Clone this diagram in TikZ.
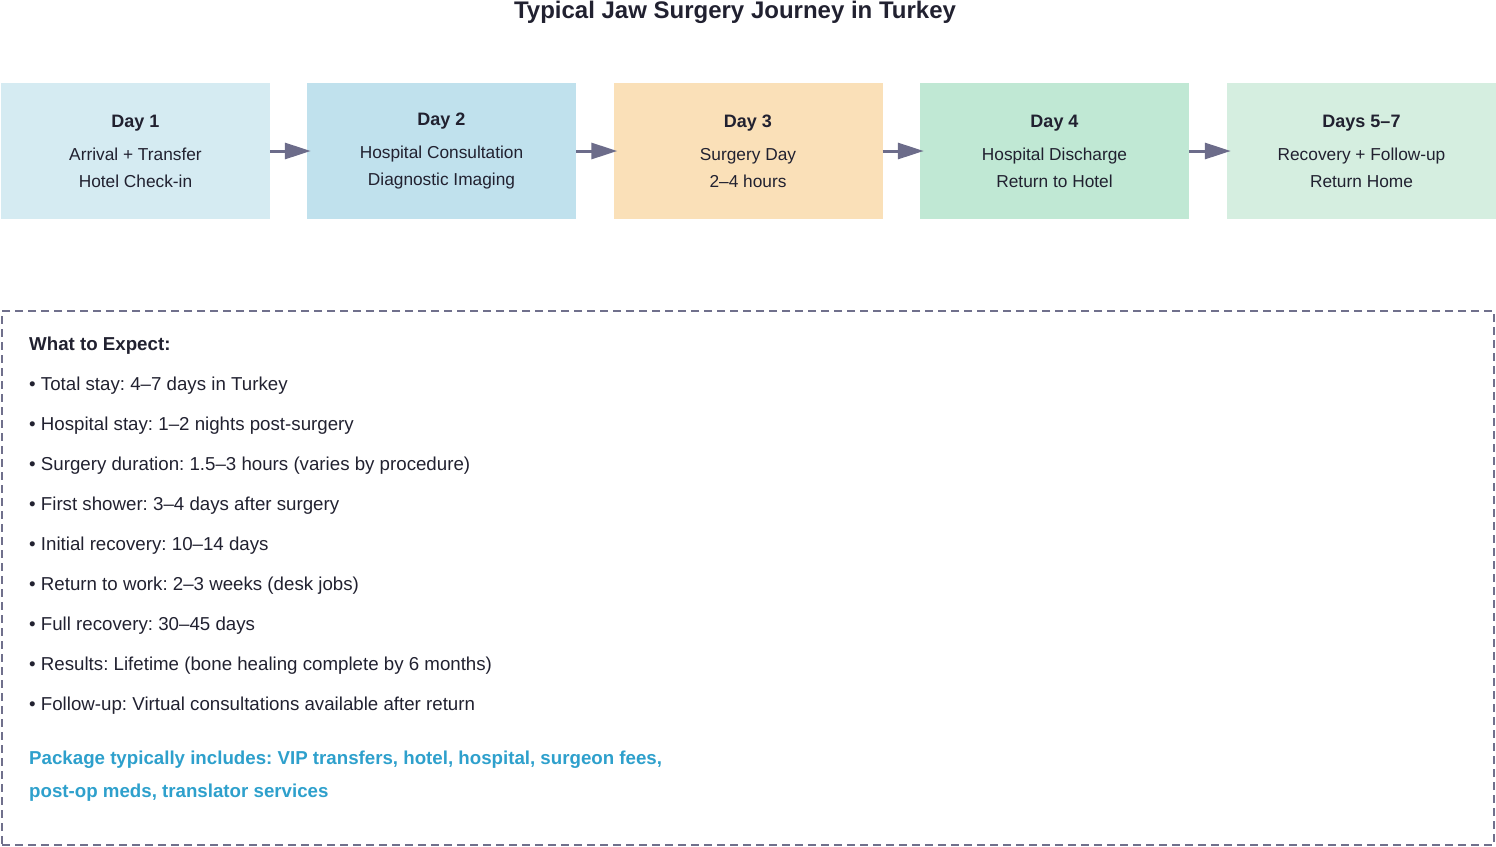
\documentclass[tikz,border=0pt]{standalone}
\usepackage{fontspec}
\setmainfont{Liberation Sans}
\usetikzlibrary{positioning,arrows.meta}
\definecolor{ink}{RGB}{33,33,48}
\definecolor{cArr}{RGB}{108,108,138}
\definecolor{cDash}{RGB}{112,112,140}
\definecolor{cD1}{RGB}{213,235,242}
\definecolor{cD2}{RGB}{192,225,237}
\definecolor{cD3}{RGB}{250,224,184}
\definecolor{cD4}{RGB}{192,232,212}
\definecolor{cD5}{RGB}{213,238,224}
\definecolor{cPkg}{RGB}{46,160,204}
\frenchspacing

\begin{document}
\begin{tikzpicture}[
  x=1pt, y=-1pt,
  >={Triangle[length=26pt, width=16pt]},
  day/.style={minimum width=269pt, minimum height=136pt, inner sep=0pt, align=center, text=ink, font=\fontsize{17.3}{26.5}\selectfont},
  flow/.style={->, draw=cArr, line width=3pt, shorten >=-4pt},
  item/.style={anchor=west, inner sep=0pt, text=ink, font=\fontsize{18.7}{22}\selectfont},
  pkg/.style={anchor=west, inner sep=0pt, text=cPkg, font=\fontsize{18.7}{22}\selectfont\bfseries}
]
\useasboundingbox (0,0) rectangle (1496,846);

% ---------------- TITLE ----------------
\node (title) at (735,12) [text=ink, font=\fontsize{24}{28}\selectfont\bfseries] {Typical Jaw Surgery Journey in Turkey};

% ---------------- TIMELINE ----------------
\node (d1) at (135.5,151)  [day, fill=cD1] {{\fontsize{18}{26.5}\selectfont\bfseries Day 1}\\[7pt]Arrival + Transfer\\Hotel Check-in};
\node (d2) at (441.5,151)  [day, fill=cD2] {{\fontsize{18}{26.5}\selectfont\bfseries Day 2}\\[7pt]Hospital Consultation\\Diagnostic Imaging};
\node (d3) at (748,151)    [day, fill=cD3] {{\fontsize{18}{26.5}\selectfont\bfseries Day 3}\\[7pt]Surgery Day\\2–4 hours};
\node (d4) at (1054.5,151) [day, fill=cD4] {{\fontsize{18}{26.5}\selectfont\bfseries Day 4}\\[7pt]Hospital Discharge\\Return to Hotel};
\node (d5) at (1361.5,151) [day, fill=cD5] {{\fontsize{18}{26.5}\selectfont\bfseries Days 5–7}\\[7pt]Recovery + Follow-up\\Return Home};
\draw[flow] (d1) -- (d2);
\draw[flow] (d2) -- (d3);
\draw[flow] (d3) -- (d4);
\draw[flow] (d4) -- (d5);

% ---------------- WHAT TO EXPECT ----------------
\node (panel) at (748,578) [minimum width=1492pt, minimum height=534pt, inner sep=0pt, draw=cDash, line width=2pt, dash pattern=on 8pt off 5pt] {};
\node (head) at (29,346) [item, font=\fontsize{18.7}{22}\selectfont\bfseries] {What to Expect:};
\node (i1) at (29,386) [item] {• Total stay: 4–7 days in Turkey};
\node (i2) at (29,426) [item] {• Hospital stay: 1–2 nights post-surgery};
\node (i3) at (29,466) [item] {• Surgery duration: 1.5–3 hours (varies by procedure)};
\node (i4) at (29,506) [item] {• First shower: 3–4 days after surgery};
\node (i5) at (29,546) [item] {• Initial recovery: 10–14 days};
\node (i6) at (29,586) [item] {• Return to work: 2–3 weeks (desk jobs)};
\node (i7) at (29,626) [item] {• Full recovery: 30–45 days};
\node (i8) at (29,666) [item] {• Results: Lifetime (bone healing complete by 6 months)};
\node (i9) at (29,706) [item] {• Follow-up: Virtual consultations available after return};
\node (p1) at (29,760) [pkg] {Package typically includes: VIP transfers, hotel, hospital, surgeon fees,};
\node (p2) at (29,793) [pkg] {post-op meds, translator services};

\end{tikzpicture}
\end{document}
